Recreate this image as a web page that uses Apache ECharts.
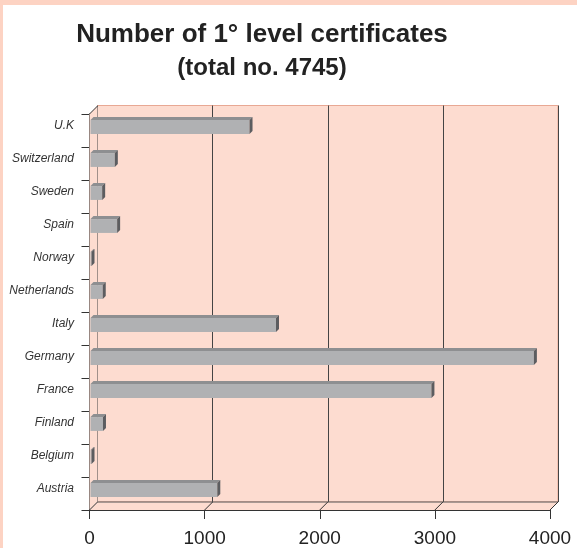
<!DOCTYPE html>
<html>
<head>
<meta charset="utf-8">
<script src="https://cdn.jsdelivr.net/npm/echarts@6/dist/echarts.min.js"></script>
<style>
html,body{margin:0;padding:0;background:#fff;}
#wrap{position:absolute;left:0;top:0;width:577px;height:548px;background:#fff;}
#bt{position:absolute;left:0;top:0;width:577px;height:5px;background:#FDD3C3;}
#bl{position:absolute;left:0;top:0;width:3px;height:548px;background:#FDD3C3;}
#main{position:absolute;left:0;top:0;width:577px;height:548px;}
</style>
</head>
<body>
<div id="wrap"><div id="main"></div><div id="bt"></div><div id="bl"></div></div>
<script>
var categories = ['Austria','Belgium','Finland','France','Germany','Italy','Netherlands','Norway','Spain','Sweden','Switzerland','U.K'];
var values = [1110, 8, 117, 2970, 3860, 1620, 115, 15, 240, 110, 220, 1390];
var xTicks = [0, 1000, 2000, 3000, 4000];
var titleText = 'Number of 1\u00B0 level certificates';
var subtitleText = '(total no. 4745)';

var D = 8;      // wall depth (px)
var BD = 3;     // bar depth (px)
var wallFill = '#FDDCD0';
var edge = '#333';

var chart = echarts.init(document.getElementById('main'), null, {renderer: 'canvas'});

var barData = values.map(function (v, i) { return [v, i]; });

var option = {
  animation: false,
  backgroundColor: 'transparent',
  title: [
    {text: titleText, left: 257, top: 17, textAlign: 'center',
     textStyle: {fontFamily: 'Liberation Sans, Arial', fontWeight: 'bold', fontSize: 26, color: '#222'}},
    {text: subtitleText, left: 257, top: 51, textAlign: 'center',
     textStyle: {fontFamily: 'Liberation Sans, Arial', fontWeight: 'bold', fontSize: 24, color: '#222'}}
  ],
  grid: [
    {left: 89.5, right: 27, top: 114, bottom: 38, show: false},
    {left: 97.5, right: 19, top: 105.5, bottom: 46, show: true, backgroundColor: wallFill, borderColor: '#E8A894', borderWidth: 1}
  ],
  xAxis: [
    {type: 'value', gridIndex: 0, min: 0, max: 4000, interval: 1000,
     axisLine: {show: true, lineStyle: {color: edge, width: 1}},
     axisTick: {show: true, length: 9, lineStyle: {color: edge}},
     axisLabel: {margin: 19, fontFamily: 'Liberation Sans, Arial', fontSize: 19, color: '#222',
       formatter: function (v) { return String(v); }},
     splitLine: {show: false}},
    {type: 'value', gridIndex: 1, min: 0, max: 4000, interval: 1000,
     axisLine: {show: false}, axisTick: {show: false}, axisLabel: {show: false},
     splitLine: {show: true, lineStyle: {color: '#444', width: 1}}}
  ],
  yAxis: [
    {type: 'category', gridIndex: 0, data: categories,
     axisLine: {show: true, lineStyle: {color: edge, width: 1}},
     axisTick: {show: true, length: 8, lineStyle: {color: edge}},
     axisLabel: {margin: 15.5, fontFamily: 'Liberation Sans', fontStyle: 'italic', fontSize: 12, color: '#333',
       verticalAlign: 'bottom', lineHeight: 9},
     splitLine: {show: false}},
    {type: 'category', gridIndex: 1, data: categories, show: false}
  ],
  series: [
    {
      type: 'custom', xAxisIndex: 0, yAxisIndex: 0, data: [[0, 0]], silent: true, z: 1,
      renderItem: function (params, api) {
        var cs = params.coordSys;
        var x = cs.x, y = cs.y, w = cs.width, h = cs.height;
        var kids = [];
        kids.push({type: 'polygon', shape: {points: [[x, y], [x + D, y - D], [x + D, y + h - D], [x, y + h]]},
          style: {fill: wallFill, stroke: null}});
        kids.push({type: 'polygon', shape: {points: [[x, y + h], [x + D, y + h - D], [x + w + D, y + h - D], [x + w, y + h]]},
          style: {fill: wallFill, stroke: null}});
        kids.push({type: 'line', shape: {x1: x, y1: y, x2: x + D, y2: y - D}, style: {stroke: edge, lineWidth: 1}});
        kids.push({type: 'line', shape: {x1: x + D, y1: y + h - D, x2: x + w + D, y2: y + h - D}, style: {stroke: '#555', lineWidth: 1}});
        xTicks.forEach(function (t) {
          var p = api.coord([t, 0]);
          kids.push({type: 'line', shape: {x1: p[0], y1: y + h, x2: p[0] + D, y2: y + h - D}, style: {stroke: edge, lineWidth: 1}});
        });
        return {type: 'group', children: kids};
      }
    },
    {
      type: 'custom', xAxisIndex: 0, yAxisIndex: 0, data: barData, z: 3,
      encode: {x: 0, y: 1},
      renderItem: function (params, api) {
        var v = api.value(0), idx = api.value(1);
        var p0 = api.coord([0, idx]);
        var p1 = api.coord([v, idx]);
        var band = api.size([0, 1])[1];
        var fh = band * 0.42;
        var cy = p0[1] - 3.5;
        var yT = cy - fh / 2, yB = cy + fh / 2;
        var x0 = p0[0] + 1, x1 = Math.max(p1[0], x0 + 1);
        return {type: 'group', children: [
          {type: 'rect', shape: {x: x0, y: yT, width: x1 - x0, height: fh}, style: {fill: '#B0B1B3'}},
          {type: 'polygon', shape: {points: [[x0, yT], [x0 + BD, yT - BD], [x1 + BD, yT - BD], [x1, yT]]}, style: {fill: '#8E8F91'}},
          {type: 'polygon', shape: {points: [[x1, yT], [x1 + BD, yT - BD], [x1 + BD, yB - BD], [x1, yB]]}, style: {fill: '#5C5D60'}}
        ]};
      }
    }
  ]
};
chart.setOption(option);
</script>
</body>
</html>
